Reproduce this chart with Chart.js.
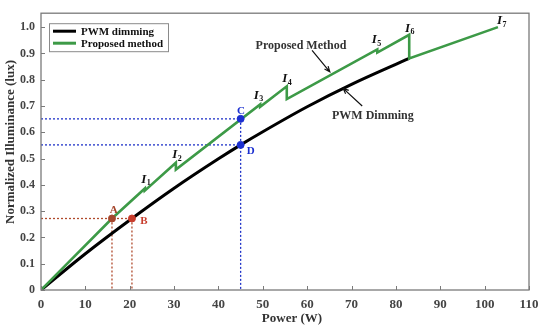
<!DOCTYPE html>
<html>
<head>
<meta charset="utf-8">
<script src="https://cdn.jsdelivr.net/npm/chart.js@4.4.1/dist/chart.umd.min.js"></script>
<style>
  body { margin: 0; background: #fff; }
  #wrap { width: 550px; height: 331px; }
</style>
</head>
<body>
<div id="wrap"><canvas id="chart"></canvas></div>
<script>
// values: power (W) vs normalized illuminance
const pwmPower = [0, 10, 20.5, 30, 40, 45, 50, 60, 70, 83];
const pwmLux = [0, 0.138, 0.272, 0.387, 0.499, 0.552, 0.602, 0.697, 0.782, 0.881];

const propPower = [0, 16, 23.4, 23.4, 30.4, 30.4, 49.4, 49.4, 55.4, 55.4, 75.8, 75.8, 83, 83, 103];
const propLux = [0, 0.272, 0.386, 0.378, 0.484, 0.458, 0.706, 0.697, 0.775, 0.726, 0.915, 0.903, 0.971, 0.881, 1.0];

// operating points A-D and where their letters sit
const pointNames = ['A', 'B', 'C', 'D'];
const pointPower = [16, 20.5, 45, 45];
const pointLux = [0.272, 0.272, 0.651, 0.552];
const pointColors = ['#a5462c', '#c83c2c', '#1b2fd0', '#1b2fd0'];
const pointLabelPower = [16.4, 23.2, 45.1, 47.3];
const pointLabelLux = [0.303, 0.26, 0.679, 0.53];

// step labels I1..I7
const stepNums = ['1', '2', '3', '4', '5', '6', '7'];
const stepPower = [23.7, 30.7, 49.1, 55.5, 75.7, 83.2, 103.9];
const stepLux = [0.421, 0.514, 0.741, 0.804, 0.953, 0.996, 1.023];

// callouts: text position, arrow start and arrow tip
const noteTexts = ['Proposed Method', 'PWM Dimming'];
const notePower = [58.6, 74.8];
const noteLux = [0.93, 0.662];
const arrowFrom = [[61.1, 0.912], [72.4, 0.700]];
const arrowTo = [[65.1, 0.830], [68.1, 0.767]];

const xTicks = [0, 10, 20, 30, 40, 50, 60, 70, 80, 90, 100, 110];
const yTicks = [0, 0.1, 0.2, 0.3, 0.4, 0.5, 0.6, 0.7, 0.8, 0.9, 1.0];

const GREEN = '#3d9a47';
const RED = '#b04a2c';
const BLUE = '#1f33c8';
const SERIF = '"Liberation Serif", "Times New Roman", serif';

function pts(xs, ys) {
  return xs.map((v, i) => ({x: v, y: ys[i]}));
}

function guide(from, to, color) {
  return {
    label: '', data: [from, to], showLine: true, borderColor: color,
    borderWidth: 1.3, borderDash: [2, 2], pointRadius: 0, order: 5
  };
}

const guides = [
  guide({x: 0, y: pointLux[1]}, {x: pointPower[1], y: pointLux[1]}, RED),
  guide({x: pointPower[0], y: pointLux[0]}, {x: pointPower[0], y: 0}, RED),
  guide({x: pointPower[1], y: pointLux[1]}, {x: pointPower[1], y: 0}, RED),
  guide({x: 0, y: pointLux[2]}, {x: pointPower[2], y: pointLux[2]}, BLUE),
  guide({x: 0, y: pointLux[3]}, {x: pointPower[3], y: pointLux[3]}, BLUE),
  guide({x: pointPower[2], y: pointLux[2]}, {x: pointPower[2], y: 0}, BLUE)
];

const decor = {
  id: 'decor',
  afterDatasetsDraw(chart) {
    const {ctx, chartArea: a, scales: {x, y}} = chart;
    ctx.save();

    // frame + inward ticks
    ctx.strokeStyle = '#7a7a7a';
    ctx.lineWidth = 1.3;
    ctx.strokeRect(a.left, a.top, a.right - a.left, a.bottom - a.top);
    ctx.lineWidth = 1;
    ctx.beginPath();
    xTicks.forEach(v => {
      const px = Math.round(x.getPixelForValue(v)) + 0.5;
      ctx.moveTo(px, a.bottom);
      ctx.lineTo(px, a.bottom - 4);
    });
    yTicks.forEach(v => {
      const py = Math.round(y.getPixelForValue(v)) + 0.5;
      ctx.moveTo(a.left, py);
      ctx.lineTo(a.left + 4, py);
    });
    ctx.stroke();

    // axis titles
    ctx.fillStyle = '#333';
    ctx.font = 'bold 13px ' + SERIF;
    ctx.textAlign = 'center';
    ctx.textBaseline = 'middle';
    ctx.fillText('Power (W)', 292, 319);
    ctx.save();
    ctx.translate(11, 142);
    ctx.rotate(-Math.PI / 2);
    ctx.fillText('Normalized Illuminance (lux)', 0, 0);
    ctx.restore();

    // point letters
    ctx.font = 'bold 11px ' + SERIF;
    pointNames.forEach((n, i) => {
      ctx.fillStyle = pointColors[i];
      ctx.fillText(n, x.getPixelForValue(pointLabelPower[i]), y.getPixelForValue(pointLabelLux[i]));
    });

    // I_k labels
    ctx.fillStyle = '#111';
    stepNums.forEach((n, i) => {
      const px = x.getPixelForValue(stepPower[i]);
      const py = y.getPixelForValue(stepLux[i]);
      ctx.font = 'bold italic 13px ' + SERIF;
      ctx.textAlign = 'left';
      ctx.fillText('I', px - 5, py);
      ctx.font = 'bold 8px ' + SERIF;
      ctx.fillText(n, px + 0.5, py + 4);
    });

    // callouts with arrows
    ctx.fillStyle = '#333';
    ctx.strokeStyle = '#111';
    ctx.font = 'bold 12px ' + SERIF;
    ctx.textAlign = 'center';
    noteTexts.forEach((t, i) => {
      ctx.fillText(t, x.getPixelForValue(notePower[i]), y.getPixelForValue(noteLux[i]));
      const x0 = x.getPixelForValue(arrowFrom[i][0]), y0 = y.getPixelForValue(arrowFrom[i][1]);
      const x1 = x.getPixelForValue(arrowTo[i][0]), y1 = y.getPixelForValue(arrowTo[i][1]);
      const ang = Math.atan2(y1 - y0, x1 - x0);
      ctx.lineWidth = 1.2;
      ctx.beginPath();
      ctx.moveTo(x0, y0);
      ctx.lineTo(x1, y1);
      ctx.moveTo(x1 - 6 * Math.cos(ang - 0.4), y1 - 6 * Math.sin(ang - 0.4));
      ctx.lineTo(x1, y1);
      ctx.lineTo(x1 - 6 * Math.cos(ang + 0.4), y1 - 6 * Math.sin(ang + 0.4));
      ctx.stroke();
    });

    // legend box in upper left
    const lx = a.left + 8, ly = a.top + 10;
    ctx.fillStyle = '#fff';
    ctx.fillRect(lx, ly, 119, 28);
    ctx.strokeStyle = '#8a8a8a';
    ctx.lineWidth = 1;
    ctx.strokeRect(lx + 0.5, ly + 0.5, 119, 28);
    const legend = [chart.data.datasets[0], chart.data.datasets[1]];
    ctx.font = 'bold 11px ' + SERIF;
    ctx.textAlign = 'left';
    legend.forEach((ds, i) => {
      const yy = ly + 8 + i * 12;
      ctx.strokeStyle = ds.borderColor;
      ctx.lineWidth = 3;
      ctx.beginPath();
      ctx.moveTo(lx + 4, yy);
      ctx.lineTo(lx + 27, yy);
      ctx.stroke();
      ctx.fillStyle = '#111';
      ctx.fillText(ds.label, lx + 32, yy + 1);
    });

    ctx.restore();
  }
};

new Chart(document.getElementById('chart'), {
  type: 'scatter',
  data: {
    datasets: [
      {
        label: 'PWM dimming', data: pts(pwmPower, pwmLux), showLine: true,
        borderColor: '#000', borderWidth: 3, pointRadius: 0,
        cubicInterpolationMode: 'monotone', order: 3
      },
      {
        label: 'Proposed method', data: pts(propPower, propLux), showLine: true,
        borderColor: GREEN, borderWidth: 2.6, pointRadius: 0, order: 2
      },
      ...guides,
      {
        label: '', data: pts(pointPower, pointLux), showLine: false,
        pointRadius: 3.5, pointBackgroundColor: pointColors,
        pointBorderColor: pointColors, order: 0
      }
    ]
  },
  options: {
    responsive: true,
    maintainAspectRatio: false,
    animation: false,
    layout: {padding: {top: 7, right: 21, left: 0, bottom: 0}},
    plugins: {legend: {display: false}, tooltip: {enabled: false}},
    scales: {
      x: {
        type: 'linear', min: 0, max: 110,
        afterBuildTicks: s => { s.ticks = xTicks.map(v => ({value: v})); },
        afterFit: s => { s.height = 41; },
        grid: {display: false, drawTicks: false},
        border: {display: false},
        ticks: {
          padding: 7, color: '#444', maxRotation: 0, autoSkip: false,
          font: {family: SERIF, size: 13, weight: 'bold'}
        }
      },
      y: {
        type: 'linear', min: 0, max: 1.053,
        afterBuildTicks: s => { s.ticks = yTicks.map(v => ({value: v})); },
        afterFit: s => { s.width = 41; },
        grid: {display: false, drawTicks: false},
        border: {display: false},
        ticks: {
          padding: 6, color: '#444', autoSkip: false,
          font: {family: SERIF, size: 12, weight: 'bold'},
          callback: v => v === 0 ? '0' : v.toFixed(1)
        }
      }
    }
  },
  plugins: [decor]
});
</script>
</body>
</html>
